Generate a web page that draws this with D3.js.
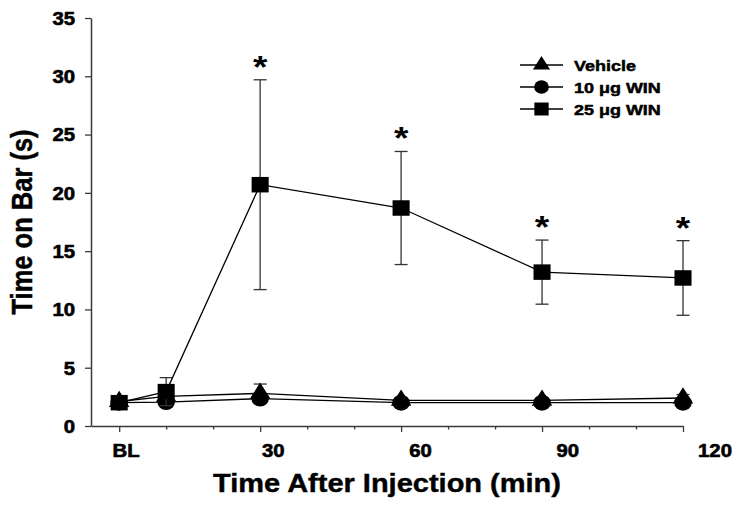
<!DOCTYPE html>
<html>
<head>
<meta charset="utf-8">
<script src="https://cdn.jsdelivr.net/npm/d3@7"></script>
<style>
  body { margin: 0; background: #fff; }
  svg text { font-family: "Liberation Sans", Arial, sans-serif; font-weight: bold; fill: #000; }
</style>
</head>
<body>
<svg id="chart" width="742" height="507"></svg>
<script>
// ---- data ----
const times = [0, 10, 30, 60, 90, 120];
const vehicle = [2.1, 2.55, 2.8, 2.2, 2.2, 2.4];
const vehicleErr = [0.3, 0.3, 0.8, 0.2, 0.2, 0.3];
const win10 = [2.0, 2.05, 2.35, 2.0, 2.0, 2.0];
const win10Err = [0.2, 0.2, 0.3, 0.2, 0.2, 0.2];
const win25 = [2.0, 2.95, 20.7, 18.7, 13.2, 12.7];
const win25Err = [0.3, 1.2, 9.0, 4.85, 2.75, 3.2];
const significant = [false, false, true, true, true, true];
const seriesNames = ["Vehicle", "10 \u03bcg WIN", "25 \u03bcg WIN"];
const xTickLabels = ["BL", "30", "60", "90", "120"];
const xLabelTimes = [0, 30, 60, 90, 120];
const xMinorTimes = [10, 20, 40, 50, 70, 80, 100, 110];
const yTicks = [0, 5, 10, 15, 20, 25, 30, 35];
const yTitle = "Time on Bar (s)";
const xTitle = "Time After Injection (min)";

// ---- layout ----
const SX = 1.16; // horizontal stretch of the original image
const svg = d3.select("#chart");
const x = d3.scaleLinear().domain([-6, 120]).range([91, 683]);
const y = d3.scaleLinear().domain([0, 35]).range([426, 18]);
const xLabelPos = d3.scaleLinear().domain([0, 120]).range([126, 715]);

const axisColor = "#3a3a3a";

// y axis
const yAxis = svg.append("g").attr("transform", `translate(${x(-6)},0)`)
  .call(d3.axisLeft(y).tickValues(yTicks).tickSize(6).tickPadding(0).tickSizeOuter(0));
yAxis.select(".domain").attr("stroke", axisColor).attr("stroke-width", 1.5);
yAxis.selectAll(".tick line").attr("stroke", axisColor).attr("stroke-width", 1.3);
yAxis.selectAll(".tick text")
  .attr("x", -16 / SX).attr("dy", "0.36em")
  .attr("transform", `scale(${SX},1)`)
  .style("font-size", "17.5px").style("font-family", "'Liberation Sans', Arial, sans-serif")
  .style("font-weight", "bold").attr("fill", "#000")
  .attr("stroke", "#000").attr("stroke-width", 0.6);

// x axis
const xAxisG = svg.append("g").attr("transform", `translate(0,${y(0)})`);
xAxisG.call(d3.axisBottom(x).tickValues(xLabelTimes).tickSize(6).tickFormat("").tickSizeOuter(0));
xAxisG.select(".domain").attr("stroke", axisColor).attr("stroke-width", 1.5);
xAxisG.selectAll(".tick line").attr("stroke", axisColor).attr("stroke-width", 1.3);
const xMinor = svg.append("g").attr("transform", `translate(0,${y(0)})`)
  .call(d3.axisBottom(x).tickValues(xMinorTimes).tickSize(3.5).tickFormat("").tickSizeOuter(0));
xMinor.select(".domain").remove();
xMinor.selectAll(".tick line").attr("stroke", axisColor).attr("stroke-width", 1.3);

svg.append("g").selectAll("text").data(xTickLabels).join("text")
  .attr("transform", (d, i) => `translate(${xLabelPos(xLabelTimes[i])},457) scale(${SX},1)`)
  .attr("text-anchor", "middle")
  .style("font-size", "17.5px")
  .attr("stroke", "#000").attr("stroke-width", 0.6)
  .text(d => d);

// titles
svg.append("text")
  .attr("transform", `translate(${(x(-6) + x(120)) / 2},492) scale(${SX},1)`)
  .attr("text-anchor", "middle").style("font-size", "25px")
  .attr("stroke", "#000").attr("stroke-width", 0.4).text(xTitle);
svg.append("text")
  .attr("transform", `translate(31.5,${(y(0) + y(35)) / 2}) scale(${SX},1) rotate(-90)`)
  .attr("text-anchor", "middle").style("font-size", "25.5px")
  .attr("stroke", "#000").attr("stroke-width", 0.4).text(yTitle);

// ---- series ----
const series = [
  { name: seriesNames[0], vals: vehicle, err: vehicleErr, sym: d3.symbolTriangle, size: 150 },
  { name: seriesNames[1], vals: win10, err: win10Err, sym: d3.symbolCircle, size: 200 },
  { name: seriesNames[2], vals: win25, err: win25Err, sym: d3.symbolSquare, size: 240 }
];

const line = d3.line().x(d => x(d[0])).y(d => y(d[1]));

series.forEach(s => {
  const g = svg.append("g");
  const pts = times.map((t, i) => [t, s.vals[i], s.err[i]]);
  // error bars
  g.selectAll("line.err").data(pts).join("line")
    .attr("x1", d => x(d[0])).attr("x2", d => x(d[0]))
    .attr("y1", d => y(d[1] - d[2])).attr("y2", d => y(d[1] + d[2]))
    .attr("stroke", "#333").attr("stroke-width", 1.3);
  g.selectAll("line.capT").data(pts).join("line")
    .attr("x1", d => x(d[0]) - 6.5).attr("x2", d => x(d[0]) + 6.5)
    .attr("y1", d => y(d[1] + d[2])).attr("y2", d => y(d[1] + d[2]))
    .attr("stroke", "#333").attr("stroke-width", 1.3);
  g.selectAll("line.capB").data(pts).join("line")
    .attr("x1", d => x(d[0]) - 6.5).attr("x2", d => x(d[0]) + 6.5)
    .attr("y1", d => y(d[1] - d[2])).attr("y2", d => y(d[1] - d[2]))
    .attr("stroke", "#333").attr("stroke-width", 1.3);
  // line
  g.append("path").datum(pts).attr("d", line)
    .attr("fill", "none").attr("stroke", "#000").attr("stroke-width", 1.3);
  // markers
  g.selectAll("path.m").data(pts).join("path")
    .attr("transform", d => `translate(${x(d[0])},${y(d[1])}) scale(${SX * 0.95},1)`)
    .attr("d", d3.symbol().type(s.sym).size(s.size))
    .attr("fill", "#000");
});

// significance asterisks
svg.append("g").selectAll("text").data(times.map((t, i) => [t, win25[i] + win25Err[i], significant[i]]).filter(d => d[2]))
  .join("text")
  .attr("transform", d => `translate(${x(d[0])},${y(d[1]) - 2}) scale(${SX},1)`)
  .attr("text-anchor", "middle")
  .style("font-size", "32px")
  .text("*");

// ---- legend ----
const leg = svg.append("g");
series.forEach((s, i) => {
  const ly = 65 + i * 22;
  leg.append("line").attr("x1", 520).attr("x2", 563).attr("y1", ly).attr("y2", ly)
    .attr("stroke", "#000").attr("stroke-width", 1.3);
  leg.append("path").attr("transform", `translate(541.5,${ly}) scale(${SX * 0.95},1)`)
    .attr("d", d3.symbol().type(s.sym).size(s.size * 0.7)).attr("fill", "#000");
  leg.append("text").attr("transform", `translate(574,${ly + 5.5}) scale(${SX},1)`)
    .style("font-size", "15.5px")
    .attr("stroke", "#000").attr("stroke-width", 0.5).text(s.name);
});
</script>
</body>
</html>
